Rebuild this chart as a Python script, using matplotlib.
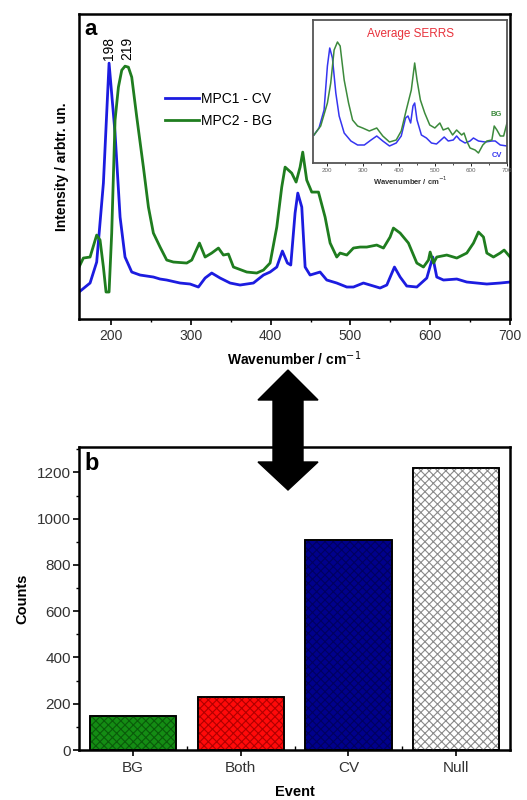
import matplotlib
matplotlib.use("Agg")
import matplotlib.pyplot as plt
from matplotlib.patches import Polygon
from matplotlib.ticker import MultipleLocator
import numpy as np

plt.rcParams['font.family'] = ['Liberation Sans', 'DejaVu Sans']
plt.rcParams['hatch.linewidth'] = 0.8

# ---- panel a : main spectra (intensity in arbitrary units) ----
wn_cv = [160, 173.8, 182.1, 190.5, 197.6, 205.1, 211.4, 217.6, 226, 236.4, 253.1, 261.5,
         269.8, 286.5, 299.1, 309.5, 317.9, 326.2, 336.7, 349.2, 361.7, 378.4, 391, 399.3,
         407.7, 414.7, 421, 425.2, 430.6, 434, 439, 443.2, 449.4, 461.9, 470.3, 482.8,
         495.4, 503.7, 516.2, 528.8, 537.1, 545.5, 555.1, 562.2, 570.5, 583.1, 595.6, 603.1,
         608.1, 616.5, 633.2, 645.7, 658.2, 670.8, 687.5, 700]
int_cv = [27, 36, 57, 136, 256, 186, 102, 62, 47, 44, 42, 40,
          39, 36, 35, 32, 41, 46, 41, 36, 34, 36, 44, 47,
          52, 68, 56, 54, 106, 126, 112, 52, 44, 47, 39, 36,
          32, 32, 36, 33, 31, 34, 52, 42, 33, 32, 41, 62,
          42, 39, 40, 37, 36, 35, 36, 37]

wn_bg = [160, 165.4, 173.8, 182.1, 186.3, 190.5, 193.8, 197.6, 200.9, 205.1, 209.3, 213.5,
         217.6, 221.8, 226, 232.3, 240.6, 246.9, 253.1, 261.5, 269.8, 278.2, 294.9, 301.2,
         310.8, 317.9, 326.2, 334.6, 340.8, 347.1, 353.4, 370.1, 382.6, 391, 399.3, 407.7,
         413.9, 418.1, 426.4, 431.9, 436.9, 440.2, 445.2, 451.5, 459.9, 468.2, 474.5, 482.8,
         487, 495.4, 503.7, 512.1, 520.4, 532.9, 541.3, 549.6, 553.8, 562.2, 572.6, 583.1,
         591.4, 597.7, 599.8, 604, 608.1, 620.6, 633.2, 645.7, 654.1, 660.3, 666.6, 670.8,
         679.1, 687.5, 692.5, 700]
int_bg = [52, 61, 62, 84, 79, 52, 27, 27, 86, 199, 232, 249,
          253, 252, 242, 202, 152, 112, 86, 72, 59, 57, 56, 59,
          76, 62, 66, 71, 64, 65, 52, 47, 46, 49, 56, 92,
          132, 152, 146, 137, 152, 167, 139, 127, 127, 102, 76, 62,
          66, 64, 71, 72, 72, 74, 71, 82, 91, 86, 76, 56,
          52, 59, 67, 56, 62, 64, 61, 66, 76, 87, 82, 66,
          62, 66, 69, 62]

# ---- inset : average SERRS ----
wn_avg_cv = [162.6, 176.6, 190.7, 200, 206.5, 214, 223.4, 232.7, 246.7, 265.4, 284.1, 302.8,
             321.5, 337.4, 354.2, 372.9, 391.6, 405.6, 417.7, 424.3, 431.8, 438.3, 443, 449.5,
             461.7, 475.7, 489.7, 503.7, 513.1, 525.2, 536.4, 550.5, 559.8, 569.2, 583.2, 597.2,
             606.6, 620.6, 639.3, 658, 667.3, 681.3, 700]
avg_cv = [28, 35, 53, 97, 115, 105, 70, 47, 30, 22, 18, 18,
          23, 27, 22, 17, 20, 27, 45, 47, 40, 57, 60, 43,
          28, 25, 20, 19, 22, 26, 22, 23, 27, 23, 20, 22,
          25, 22, 21, 22, 22, 18, 17]
wn_avg_bg = [162.6, 181.3, 200, 209.3, 218.7, 228, 235.5, 246.7, 258.9, 270.1, 284.1, 298.1,
             316.8, 337.4, 354.2, 372.9, 391.6, 405.6, 419.6, 433.6, 443, 449.5, 458.9, 471,
             485, 499.1, 513.1, 522.4, 536.4, 548.6, 559.8, 573.8, 580.4, 587.9, 597.2, 611.2,
             620.6, 632.7, 644, 658, 664.5, 672, 681.3, 690.7, 700]
avg_bg = [28, 37, 60, 80, 113, 121, 117, 83, 60, 43, 37, 35,
          32, 35, 27, 21, 23, 32, 53, 73, 100, 83, 63, 50,
          38, 35, 40, 33, 35, 28, 33, 28, 30, 22, 15, 13,
          10, 18, 22, 23, 37, 33, 27, 27, 40]

# ---- panel b : event counts ----
events = ['BG', 'Both', 'CV', 'Null']
counts = [145, 230, 910, 1220]
bar_colors = ['#148c14', '#ff0a0a', '#00008c', '#ffffff']
hatch_colors = ['#0a5a0a', '#b00000', '#000060', '#8a8a8a']

C_BLUE = '#1c1ce0'
C_GREEN = '#1f7d1f'

fig = plt.figure(figsize=(5.27, 8.0), dpi=100)

# ======================= panel a =======================
ax1 = fig.add_axes([0.150, 0.60125, 0.818, 0.381])
ax1.plot(wn_cv, int_cv, color=C_BLUE, lw=2.0, label='MPC1 - CV')
ax1.plot(wn_bg, int_bg, color=C_GREEN, lw=2.0, label='MPC2 - BG')
ax1.set_xlim(160, 700)
ax1.set_ylim(0, 305)
ax1.set_yticks([])
ax1.xaxis.set_major_locator(MultipleLocator(100))
ax1.xaxis.set_minor_locator(MultipleLocator(50))
ax1.tick_params(axis='x', which='major', direction='out', length=4, width=1.2,
                labelsize=10, labelcolor='#333333', pad=3)
ax1.tick_params(axis='x', which='minor', direction='out', length=2.5, width=1.0)
for s in ax1.spines.values():
    s.set_linewidth(1.8)
ax1.set_xlabel('Wavenumber / cm$^{-1}$', fontsize=10, fontweight='bold', labelpad=5)
ax1.set_ylabel('Intensity / arbtr. un.', fontsize=10, fontweight='bold', labelpad=7)
ax1.text(0.012, 0.985, 'a', transform=ax1.transAxes, fontsize=16, fontweight='bold',
         va='top', ha='left')
ax1.text(198, 271, '198', rotation=90, ha='center', va='center', fontsize=10)
ax1.text(221, 271, '219', rotation=90, ha='center', va='center', fontsize=10)
ax1.legend(loc='upper left', bbox_to_anchor=(0.2, 0.745), frameon=False, fontsize=10,
           handlelength=2.4, handletextpad=0.15, labelspacing=0.55, borderpad=0,
           borderaxespad=0)

# inset
axi = fig.add_axes([0.594, 0.79625, 0.368, 0.17875])
axi.plot(wn_avg_cv, avg_cv, color='#3535f0', lw=1.1)
axi.plot(wn_avg_bg, avg_bg, color='#3c8a3c', lw=1.1)
axi.set_xlim(160, 700)
axi.set_ylim(0, 143)
axi.set_yticks([])
axi.xaxis.set_major_locator(MultipleLocator(100))
axi.xaxis.set_minor_locator(MultipleLocator(50))
axi.tick_params(axis='x', which='major', direction='out', length=2, width=0.6,
                labelsize=4.5, labelcolor='#666666', pad=1.5)
axi.tick_params(axis='x', which='minor', direction='out', length=1.2, width=0.5)
for s in axi.spines.values():
    s.set_linewidth(1.3)
    s.set_color('#555555')
axi.set_xlabel('Wavenumber / cm$^{-1}$', fontsize=5.5, fontweight='bold', labelpad=1.5,
               color='#333333')
axi.text(0.5, 0.9, 'Average SERRS', transform=axi.transAxes, color='#e8323c',
         fontsize=8.5, ha='center', va='center')
axi.text(0.975, 0.34, 'BG', transform=axi.transAxes, color='#3c8a3c', fontsize=5.5,
         fontweight='bold', ha='right', va='center')
axi.text(0.975, 0.05, 'CV', transform=axi.transAxes, color='#3535f0', fontsize=5.5,
         fontweight='bold', ha='right', va='center')

# ======================= panel b =======================
ax2 = fig.add_axes([0.150, 0.0625, 0.818, 0.37875])
x = np.arange(len(events))
ax2.bar(x, counts, width=0.8, color=bar_colors, edgecolor='black', linewidth=1.2, zorder=2)
for xi, c, hc in zip(x, counts, hatch_colors):
    ax2.bar(xi, c, width=0.8, color='none', edgecolor=hc, hatch='xxxx', linewidth=0, zorder=3)
ax2.bar(x, counts, width=0.8, color='none', edgecolor='black', linewidth=1.2, zorder=4)
ax2.set_xlim(-0.5, 3.5)
ax2.set_ylim(0, 1310)
ax2.set_xticks(x)
ax2.set_xticklabels(events)
ax2.set_xticks([0.5, 1.5, 2.5], minor=True)
ax2.yaxis.set_major_locator(MultipleLocator(200))
ax2.yaxis.set_minor_locator(MultipleLocator(100))
ax2.tick_params(axis='x', which='major', direction='out', length=4, width=1.2,
                labelsize=11, labelcolor='#333333', pad=4)
ax2.tick_params(axis='x', which='minor', direction='in', length=3, width=1.0)
ax2.tick_params(axis='y', which='major', direction='out', length=4, width=1.2,
                labelsize=11, labelcolor='#333333', pad=2)
ax2.tick_params(axis='y', which='minor', direction='out', length=2.5, width=1.0)
for s in ax2.spines.values():
    s.set_linewidth(1.8)
ax2.set_xlabel('Event', fontsize=10.5, fontweight='bold', labelpad=7)
ax2.set_ylabel('Counts', fontsize=10.5, fontweight='bold', labelpad=5)
ax2.text(0.012, 0.985, 'b', transform=ax2.transAxes, fontsize=17, fontweight='bold',
         va='top', ha='left')

# ---- double headed arrow linking the panels (pixel layout -> figure fraction) ----
W, H = 527.0, 800.0
arrow_px = [(288, 370), (318, 400), (303, 400), (303, 462), (318, 462), (288, 490),
            (258, 462), (273, 462), (273, 400), (258, 400)]
arrow = Polygon([(px / W, 1 - py / H) for px, py in arrow_px], closed=True,
                transform=fig.transFigure, facecolor='black', edgecolor='black', zorder=20)
fig.add_artist(arrow)

fig.savefig('out.png', dpi=100)
